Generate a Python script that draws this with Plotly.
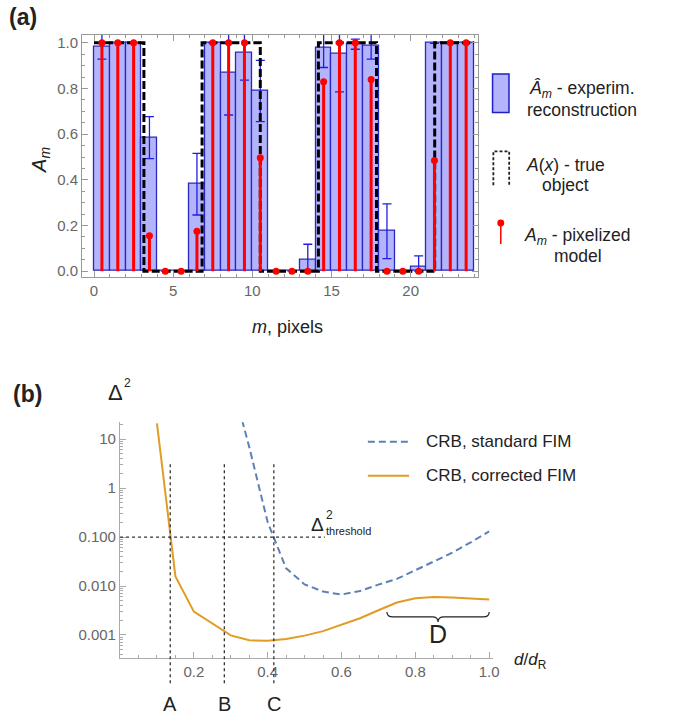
import plotly.graph_objects as go

W, H = 678, 719
FONT = "Liberation Sans, Arial, sans-serif"


def px(x):
    return x / W


def py(y):
    return 1 - y / H


# ---------------- Panel (a) data ----------------
pixel_index = list(range(24))
recon = [0.984, 1.0, 1.0, 0.585, 0.0, 0.0, 0.381, 1.0, 0.868, 0.955, 0.789, 0.0,
         0.0, 0.048, 0.977, 0.953, 0.994, 0.985, 0.175, 0.0, 0.017, 0.998, 1.0, 1.0]
recon_err_plus = [0.055, 0, 0, 0.092, 0, 0, 0.135, 0, 0.184, 0.118, 0.134, 0,
                  0, 0.07, 0.085, 0.168, 0.022, 0.056, 0.12, 0, 0.05, 0, 0, 0]
recon_err_minus = [0.055, 0, 0, 0.092, 0, 0, 0.135, 0, 0.184, 0.118, 0.134, 0,
                   0, 0.048, 0.085, 0.168, 0.022, 0.056, 0.12, 0, 0.017, 0, 0, 0]
model = [1, 1, 1, 0.155, 0, 0, 0.175, 1, 1, 1, 0.497, 0,
         0, 0, 0.83, 1, 1, 0.84, 0, 0, 0, 0.485, 1, 1]
object_x = [0, 3.15, 6.825, 10.5, 14.17, 17.84, 21.515, 24]
object_y = [1, 0, 1, 0, 1, 0, 1, 1]

# ---------------- Panel (b) data ----------------
d_corr = [0.10, 0.15, 0.20, 0.25, 0.30, 0.35, 0.40, 0.45, 0.50, 0.55,
          0.60, 0.65, 0.70, 0.75, 0.80, 0.85, 0.90, 0.95, 1.00]
crb_corr = [21, 0.0157, 0.0030, 0.0017, 0.00098, 0.00078, 0.00076, 0.00083, 0.00097, 0.0012,
            0.0016, 0.0022, 0.0032, 0.0046, 0.0056, 0.0060, 0.0058, 0.0056, 0.0053]
d_std = [0.30, 0.35, 0.40, 0.45, 0.50, 0.55, 0.60, 0.65, 0.70, 0.75,
         0.80, 0.85, 0.90, 0.95, 1.00]
crb_std = [180, 6.9, 0.20, 0.023, 0.0108, 0.0077, 0.0067, 0.0079, 0.0107, 0.014,
           0.021, 0.032, 0.048, 0.078, 0.13]
threshold = 0.1
threshold_end = 0.555
marks_abc = [0.136, 0.2825, 0.4166]
labels_abc = ["A", "B", "C"]
brace_d = [0.723, 1.0]

BAR_FILL = "rgb(180,180,252)"
BAR_EDGE = "rgb(40,40,190)"
BLUE = "#5E81B5"
ORANGE = "#E19C24"

centers = [m + 0.5 for m in pixel_index]

fig = go.Figure()

fig.add_trace(go.Bar(
    x=centers, y=recon, width=1, xaxis="x", yaxis="y",
    marker=dict(color=BAR_FILL, line=dict(color=BAR_EDGE, width=1.3)),
    error_y=dict(type="data", symmetric=False, array=recon_err_plus,
                 arrayminus=recon_err_minus, color="rgb(30,30,225)",
                 thickness=1.3, width=4.5),
))
fig.add_trace(go.Scatter(
    x=object_x, y=object_y, xaxis="x", yaxis="y", mode="lines",
    line=dict(color="black", width=3, dash="8px,3px", shape="hv"),
))
fig.add_trace(go.Scatter(
    x=centers, y=model, xaxis="x", yaxis="y", mode="markers",
    marker=dict(color="rgb(255,0,0)", size=7),
    error_y=dict(type="data", symmetric=False, array=[0] * len(model),
                 arrayminus=model, color="rgb(255,0,0)", thickness=3, width=0),
))

fig.add_trace(go.Scatter(
    x=d_std, y=crb_std, xaxis="x2", yaxis="y2", mode="lines",
    line=dict(color=BLUE, width=2, dash="7px,4px"),
))
fig.add_trace(go.Scatter(
    x=d_corr, y=crb_corr, xaxis="x2", yaxis="y2", mode="lines",
    line=dict(color=ORANGE, width=2),
))

tickfont = dict(family=FONT, size=15, color="#666")

minor_log = []
for e in range(-4, 2):
    for k in range(2, 10):
        minor_log.append(k * 10 ** e)

fig.update_layout(
    width=W, height=H, autosize=False,
    margin=dict(l=0, r=0, t=0, b=0),
    paper_bgcolor="white", plot_bgcolor="white",
    showlegend=False,
    bargap=0,
    xaxis=dict(
        domain=[px(83), px(483)], range=[-0.75, 24.25], anchor="y",
        showline=True, linecolor="#999", linewidth=1, mirror="allticks",
        ticks="inside", ticklen=6, tickcolor="#999",
        tickvals=[0, 5, 10, 15, 20],
        minor=dict(ticks="inside", ticklen=3, dtick=1, tick0=0, tickcolor="#999"),
        tickfont=tickfont, showgrid=False, zeroline=False,
    ),
    yaxis=dict(
        domain=[py(277.5), py(34)], range=[-0.027, 1.035], anchor="x",
        showline=True, linecolor="#999", linewidth=1, mirror="allticks",
        ticks="inside", ticklen=6, tickcolor="#999",
        tickvals=[0, 0.2, 0.4, 0.6, 0.8, 1.0], tickformat=".1f",
        minor=dict(ticks="inside", ticklen=3, dtick=0.05, tick0=0, tickcolor="#999"),
        tickfont=tickfont, showgrid=False, zeroline=False,
    ),
    xaxis2=dict(
        domain=[px(121.3), px(498)], range=[0, 1.01], anchor="y2",
        showline=True, linecolor="#aaa", linewidth=1.2,
        ticks="inside", ticklen=6, tickcolor="#aaa",
        tickvals=[0.2, 0.4, 0.6, 0.8, 1.0], ticktext=["0.2", "0.4", "0.6", "0.8", "1.0"],
        minor=dict(ticks="inside", ticklen=3, dtick=0.05, tick0=0, tickcolor="#aaa"),
        tickfont=tickfont, showgrid=False, zeroline=False,
    ),
    yaxis2=dict(
        type="log", domain=[py(660), py(423)], range=[-3.475, 1.345], anchor="x2",
        showline=True, linecolor="#aaa", linewidth=1.2,
        ticks="inside", ticklen=6, tickcolor="#aaa",
        tickvals=[0.001, 0.01, 0.1, 1, 10],
        ticktext=["0.001", "0.010", "0.100", "1", "10"],
        minor=dict(ticks="inside", ticklen=3, tickvals=minor_log, tickcolor="#aaa"),
        tickfont=tickfont, showgrid=False, zeroline=False,
    ),
)

shapes = []
annotations = []


def text(x, y, s, size, color="#222", **kw):
    d = dict(x=px(x), y=py(y), xref="paper", yref="paper", text=s, showarrow=False,
             font=dict(family=FONT, size=size, color=color),
             xanchor="center", yanchor="middle")
    d.update(kw)
    annotations.append(d)


# Panel labels
text(23, 16, "<b>(a)</b>", 23, color="#222")
text(28, 395, "<b>(b)</b>", 23, color="#222")

# Panel (a) axis titles
text(41, 160, "<i>A</i><sub><i>m</i></sub>", 20, textangle=-90)
text(290, 327, "<i>m</i>, pixels", 18)

# Panel (a) legend
shapes.append(dict(type="rect", xref="paper", yref="paper",
                   x0=px(497.7), x1=px(514.3), y0=py(112), y1=py(73.3),
                   fillcolor=BAR_FILL, line=dict(color="rgb(30,30,200)", width=1.5)))
text(588, 88.5, "<i>Â</i><sub><i>m</i></sub> - experim.", 17.5)
text(588, 109, "reconstruction", 17.5)

shapes.append(dict(type="path", xref="paper", yref="paper",
                   path=f"M {px(498.5)},{py(185)} L {px(498.5)},{py(151)} L {px(514.5)},{py(151)} L {px(514.5)},{py(185)}",
                   line=dict(color="#222", width=1.8, dash="3px,2px")))
text(571.7, 164.5, "<i>A</i>(<i>x</i>) - true", 17.5)
text(571.7, 184.5, "object", 17.5)

shapes.append(dict(type="line", xref="paper", yref="paper",
                   x0=px(506), x1=px(506), y0=py(224), y1=py(244),
                   line=dict(color="red", width=1.5)))
shapes.append(dict(type="circle", xref="paper", yref="paper",
                   x0=px(502.5), x1=px(509.5), y0=py(226.5), y1=py(219.5),
                   fillcolor="red", line=dict(color="red", width=0)))
text(584, 236, "<i>A</i><sub><i>m</i></sub> - pixelized", 17.5)
text(584, 256.5, "model", 17.5)

# Panel (b) axis titles
text(117, 393, "Δ", 22)
text(128.5, 384, "2", 12)
text(536, 663, "<i>d</i>/<i>d</i><sub>R</sub>", 17)

# Panel (b) legend
shapes.append(dict(type="line", xref="paper", yref="paper",
                   x0=px(371.7), x1=px(413.3), y0=py(442.7), y1=py(442.7),
                   line=dict(color=BLUE, width=2, dash="7px,4px")))
text(428.3, 442.7, "CRB, standard FIM", 17, xanchor="left")
shapes.append(dict(type="line", xref="paper", yref="paper",
                   x0=px(371.7), x1=px(413.3), y0=py(476.7), y1=py(476.7),
                   line=dict(color=ORANGE, width=2)))
text(428.3, 476.7, "CRB, corrected FIM", 17, xanchor="left")

# Threshold line and labels
shapes.append(dict(type="line", xref="x2", yref="y2",
                   x0=0, x1=threshold_end, y0=threshold, y1=threshold,
                   line=dict(color="#333", width=1.3, dash="dot")))
text(320.5, 526, "Δ", 19)
text(333, 516, "2", 12)
text(352, 532, "threshold", 11)

for xv, lab in zip(marks_abc, labels_abc):
    shapes.append(dict(type="line", xref="x2", yref="paper",
                       x0=xv, x1=xv, y0=py(685), y1=py(463),
                       line=dict(color="#333", width=1.3, dash="dot")))
    xpix = 121.3 + xv * 373
    text(xpix, 706, lab, 20)

# Brace D
bx0 = 121.3 + brace_d[0] * 373
bx1 = 121.3 + brace_d[1] * 373
btip = (bx0 + bx1) / 2
ye, ym, yt = 613.5, 618.5, 623.5
path = (f"M {px(bx0)},{py(ye)} Q {px(bx0)},{py(ym)} {px(bx0 + 6)},{py(ym)} "
        f"L {px(btip - 6)},{py(ym)} Q {px(btip)},{py(ym)} {px(btip)},{py(yt)} "
        f"Q {px(btip)},{py(ym)} {px(btip + 6)},{py(ym)} "
        f"L {px(bx1 - 6)},{py(ym)} Q {px(bx1)},{py(ym)} {px(bx1)},{py(ye)}")
shapes.append(dict(type="path", xref="paper", yref="paper", path=path,
                   line=dict(color="#222", width=1.2)))
text(btip, 636, "D", 25)

fig.update_layout(shapes=shapes, annotations=annotations)

fig.write_html("out.html")
